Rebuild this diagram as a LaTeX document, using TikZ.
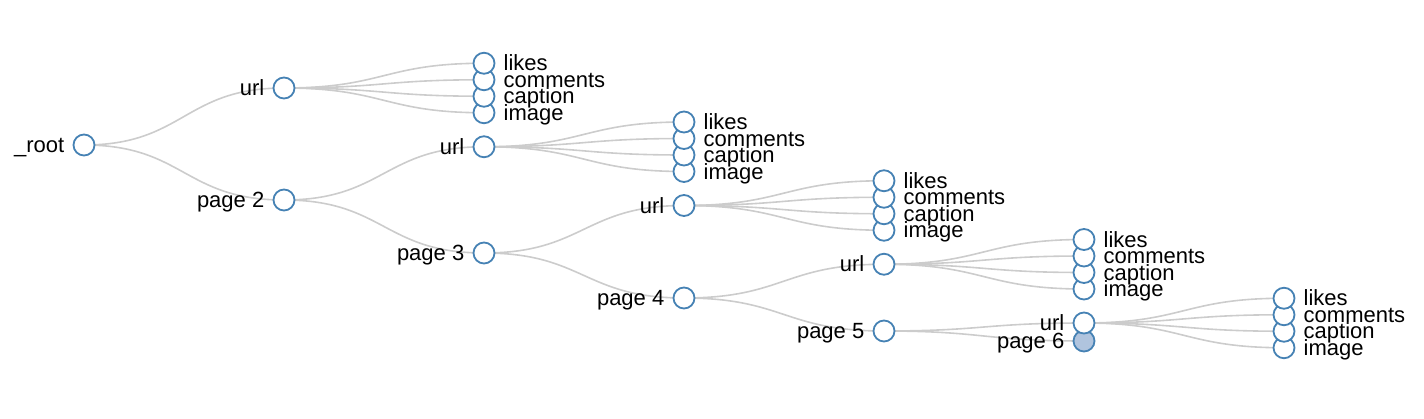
\documentclass[tikz,border=0pt]{standalone}
\usepackage{fontspec}
\setmainfont{Liberation Sans}
\usetikzlibrary{backgrounds}
\definecolor{steel}{HTML}{4682B4}
\definecolor{lsteel}{HTML}{B0C4DE}
\definecolor{linkc}{HTML}{CCCCCC}
\tikzset{
  nd/.style={circle, draw=steel, fill=white, line width=1.8pt, minimum size=21pt, inner sep=0pt},
  nd6/.style={nd, fill=lsteel},
  lblL/.style={anchor=base east, inner sep=0pt, font=\fontsize{22}{22}\selectfont},
  lblR/.style={anchor=base west, inner sep=0pt, font=\fontsize{22}{22}\selectfont},
  link/.style={draw=linkc, line width=1.6pt, out=0, in=180, out distance=100pt, in distance=100pt}
}
\begin{document}
\begin{tikzpicture}[x=1pt, y=-1pt]
\useasboundingbox (0,0) rectangle (1424,418);
% root and page chain
\node[nd] (r) at (84,145) {};
\node[lblL] at ([shift={(-19.5,7.5)}]r) {\_root};
\node[nd] (p2) at (284,200) {};
\node[lblL] at ([shift={(-19.5,7.5)}]p2) {page 2};
\node[nd] (p3) at (484,253) {};
\node[lblL] at ([shift={(-19.5,7.5)}]p3) {page 3};
\node[nd] (p4) at (684,298) {};
\node[lblL] at ([shift={(-19.5,7.5)}]p4) {page 4};
\node[nd] (p5) at (884,331) {};
\node[lblL] at ([shift={(-19.5,7.5)}]p5) {page 5};
\node[nd6] (p6) at (1084,341) {};
\node[lblL] at ([shift={(-19.5,7.5)}]p6) {page 6};
% url nodes with leaves
\foreach \d/\y in {1/88,2/146.75,3/205.5,4/264.25,5/323}{
  \pgfmathsetmacro\ux{84+200*\d}
  \pgfmathsetmacro\lx{284+200*\d}
  \foreach \i/\t/\o in {4/image/24.75, 3/caption/8.25, 2/comments/-8.25, 1/likes/-24.75}{
    \node[nd] (l\d\i) at (\lx,\y+\o) {};
    \node[lblR] at ([shift={(19.5,7.5)}]l\d\i) {\t};
  }
  \node[nd] (u\d) at (\ux,\y) {};
  \node[lblL] at ([shift={(-19.5,7.5)}]u\d) {url};
}
\begin{scope}[on background layer]
  \draw[link] (r.center) to (u1.center);
  \draw[link] (r.center) to (p2.center);
  \draw[link] (p2.center) to (u2.center);
  \draw[link] (p2.center) to (p3.center);
  \draw[link] (p3.center) to (u3.center);
  \draw[link] (p3.center) to (p4.center);
  \draw[link] (p4.center) to (u4.center);
  \draw[link] (p4.center) to (p5.center);
  \draw[link] (p5.center) to (u5.center);
  \draw[link] (p5.center) to (p6.center);
  \foreach \d in {1,...,5}{
    \foreach \i in {1,...,4}{
      \draw[link] (u\d.center) to (l\d\i.center);
    }
  }
\end{scope}
\end{tikzpicture}
\end{document}
